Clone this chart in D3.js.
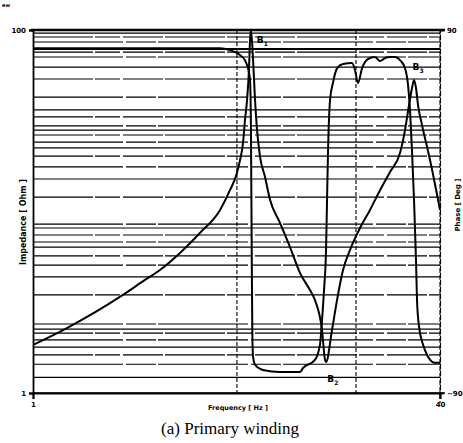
<!DOCTYPE html>
<html>
<head>
<meta charset="utf-8">
<script src="https://cdn.jsdelivr.net/npm/d3@7"></script>
<style>
  body { margin: 0; background: #fff; }
  svg { display: block; }
</style>
</head>
<body>
<div id="chart"></div>
<script>
// impedance curve: frequency, |Z|
const impFreq = [1, 1.36, 2.26, 2.76, 3.16, 3.79, 4.54, 5.45, 5.96, 6.35, 6.53, 6.71, 6.83, 6.96, 7.08, 7.15, 7.21,
  7.35, 7.48, 7.62, 7.83, 8.19, 8.57, 9.38, 10.27, 11.25, 12.31, 12.88, 13.73, 14.11, 14.24,
  15.03, 15.73, 16.61, 17.70, 19.37, 21.21, 23.23, 25.43, 27.84, 29.13, 30.21, 31.04, 31.61,
  32.18, 32.77, 33.98, 36.54, 40];
const impValue = [1.84, 2.28, 3.47, 4.2, 4.76, 5.91, 7.61, 10.2, 13.1, 16.3, 19.2, 23.9, 31.9, 41.2, 60.2, 88, 100,
  68.4, 41.2, 28.1, 20.0, 15.5, 11.6, 8.65, 6.37, 4.58, 3.69, 3.25, 2.22, 1.52, 1.48,
  2.22, 3.25, 4.76, 6.14, 8.11, 10.2, 13.1, 16.5, 21.0, 28.1, 38.6, 47.9, 53.0,
  47.9, 38.6, 30.0, 19.2, 10.2];

// phase curve: frequency, degrees
const phaseFreq = [1, 3.16, 5.45, 5.96, 6.53, 6.83, 7.02, 7.15, 7.21, 7.26, 7.30, 7.35, 7.48, 8.04, 9.38, 11.25, 11.56,
  12.88, 13.48, 13.73, 13.98, 14.24, 14.37, 14.50, 14.76, 15.17, 15.73, 16.61, 18.02, 18.52, 19.02,
  19.73, 20.27, 21.21, 22.2, 23.23, 24.3, 25.43, 26.61, 27.84, 29.13, 29.94, 30.49, 31.04, 31.61,
  32.18, 32.48, 33.07, 34.29, 35.88, 38.23, 40];
const phaseValue = [81, 81, 81, 80, 77.6, 75, 71, 65, 40, -20, -60, -72, -76, -78.6, -79.6, -79.6, -77.6,
  -73.6, -66, -54, -39, -19, 6, 30, 55, 64, 71, 73.1, 73.6, 70, 63.7,
  71, 74.1, 76.1, 76.6, 74.6, 76.1, 76.6, 76.6, 75.1, 71, 62.7, 50, 30, 5.7,
  -24, -44, -57, -66, -72, -75, -75];

// horizontal grid lines as drawn in the scan (impedance units)
const gridZ = [96.2, 91.5, 85.9, 78.6, 75.6, 71.0, 62.5, 53.7, 42.7, 36.3, 33.2, 29.6, 28.1, 26.4, 24.1, 22.4,
  20.2, 17.6, 15.1, 12.0, 8.53, 8.11, 7.42, 6.79, 6.37, 5.69, 5.07, 4.36, 3.47, 2.40, 2.25, 2.14,
  1.96, 1.79, 1.62, 1.44, 1.22];
const gridFreq = [6.35, 18.68];

const zTicks = [1, 100];
const fTicks = [1, 40];
const pTicks = [-90, 90];
const markers = [
  {f: 7.6, v: 85, name: "B", sub: "1"},
  {f: 14.4, v: 1.15, name: "B", sub: "2"},
  {f: 31.2, v: 60, name: "B", sub: "3"}
];

const W = 463, H = 443;
const plot = {left: 33, right: 440, top: 30, bottom: 393};

const svg = d3.select("#chart").append("svg").attr("width", W).attr("height", H);

const x = d3.scaleLog().domain([1, 40]).range([plot.left, plot.right]);
const yZ = d3.scaleLog().domain([1, 100]).range([plot.bottom, plot.top]);
const yP = d3.scaleLinear().domain([-90, 90]).range([plot.bottom, plot.top]);

// grid
svg.append("g").selectAll("line")
  .data(gridZ)
  .enter().append("line")
  .attr("x1", plot.left).attr("x2", plot.right)
  .attr("y1", d => yZ(d)).attr("y2", d => yZ(d))
  .attr("stroke", "#000")
  .attr("stroke-width", (d, i) => i === 3 ? 2.2 : 1.2)
  .attr("stroke-dasharray", (d, i) => i % 3 === 1 ? "60,2,25,3,40,2" : (i % 3 === 2 ? "90,3,30,2" : null));

svg.append("g").selectAll("line")
  .data(gridFreq)
  .enter().append("line")
  .attr("x1", d => x(d)).attr("x2", d => x(d))
  .attr("y1", plot.top).attr("y2", plot.bottom)
  .attr("stroke", "#000")
  .attr("stroke-width", 1.1)
  .attr("stroke-dasharray", "4,2");

// frame
svg.append("line")
  .attr("x1", plot.left - 2).attr("x2", plot.right + 5)
  .attr("y1", plot.top).attr("y2", plot.top)
  .attr("stroke", "#000").attr("stroke-width", 2.4);
svg.append("line")
  .attr("x1", plot.left).attr("x2", plot.right + 5)
  .attr("y1", plot.bottom).attr("y2", plot.bottom)
  .attr("stroke", "#000").attr("stroke-width", 1.3);
svg.append("line")
  .attr("x1", plot.right).attr("x2", plot.right)
  .attr("y1", plot.top).attr("y2", plot.bottom + 10)
  .attr("stroke", "#000").attr("stroke-width", 1.1).attr("stroke-dasharray", "5,2");

// axes
const axisLeft = svg.append("g")
  .attr("transform", "translate(" + plot.left + ",0)")
  .call(d3.axisLeft(yZ).tickValues(zTicks).tickFormat(d3.format("d")).tickSize(4));
const axisRight = svg.append("g")
  .attr("transform", "translate(" + plot.right + ",0)")
  .call(d3.axisRight(yP).tickValues(pTicks).tickFormat(d3.format("d")).tickSize(4));
const axisBottom = svg.append("g")
  .attr("transform", "translate(0," + plot.bottom + ")")
  .call(d3.axisBottom(x).tickValues(fTicks).tickFormat(d3.format("d")).tickSize(6));

[axisLeft, axisRight, axisBottom].forEach(a => {
  a.select(".domain").attr("stroke", "#000").attr("stroke-width", 1.8);
  a.selectAll(".tick line").attr("stroke", "#000").attr("stroke-width", 1.8);
  a.selectAll(".tick text")
    .attr("font-family", "DejaVu Sans")
    .attr("font-size", "7px")
    .attr("font-weight", "bold")
    .attr("fill", "#000");
});
axisRight.select(".domain").attr("stroke-dasharray", "5,2").attr("stroke-width", 1.1);

// curves
const impLine = d3.line()
  .x((d, i) => x(impFreq[i]))
  .y(d => yZ(d))
  .curve(d3.curveMonotoneX);
svg.append("path")
  .datum(impValue)
  .attr("d", impLine)
  .attr("fill", "none")
  .attr("stroke", "#000")
  .attr("stroke-width", 2);

const phaseLine = d3.line()
  .x((d, i) => x(phaseFreq[i]))
  .y(d => yP(d))
  .curve(d3.curveMonotoneX);
svg.append("path")
  .datum(phaseValue)
  .attr("d", phaseLine)
  .attr("fill", "none")
  .attr("stroke", "#000")
  .attr("stroke-width", 2);

// markers B1..B3
const mk = svg.append("g").selectAll("text")
  .data(markers)
  .enter().append("text")
  .attr("x", d => x(d.f))
  .attr("y", d => yZ(d.v))
  .attr("font-family", "DejaVu Sans")
  .attr("font-size", "9px")
  .attr("font-weight", "bold")
  .attr("fill", "#000");
mk.append("tspan").text(d => d.name);
mk.append("tspan").attr("dy", 3).attr("font-size", "6px").text(d => d.sub);

// axis titles
svg.append("text")
  .attr("transform", "translate(26,222) rotate(-90)")
  .attr("text-anchor", "middle")
  .attr("font-family", "DejaVu Sans")
  .attr("font-size", "8px")
  .attr("font-weight", "bold")
  .text("Impedance [ Ohm ]");

svg.append("text")
  .attr("transform", "translate(460,205) rotate(-90)")
  .attr("text-anchor", "middle")
  .attr("font-family", "DejaVu Sans")
  .attr("font-size", "7px")
  .attr("font-weight", "bold")
  .text("Phase [ Deg ]");

svg.append("text")
  .attr("x", 238).attr("y", 410)
  .attr("text-anchor", "middle")
  .attr("font-family", "DejaVu Sans")
  .attr("font-size", "6.5px")
  .attr("font-weight", "bold")
  .text("Frequency [ Hz ]");

svg.append("text")
  .attr("x", 230).attr("y", 434)
  .attr("text-anchor", "middle")
  .attr("font-family", "Liberation Serif")
  .attr("font-size", "17px")
  .attr("fill", "#000")
  .text("(a) Primary winding");

svg.append("text")
  .attr("x", 2).attr("y", 7)
  .attr("font-family", "DejaVu Sans")
  .attr("font-size", "5px")
  .attr("font-weight", "bold")
  .text("ew");
</script>
</body>
</html>
